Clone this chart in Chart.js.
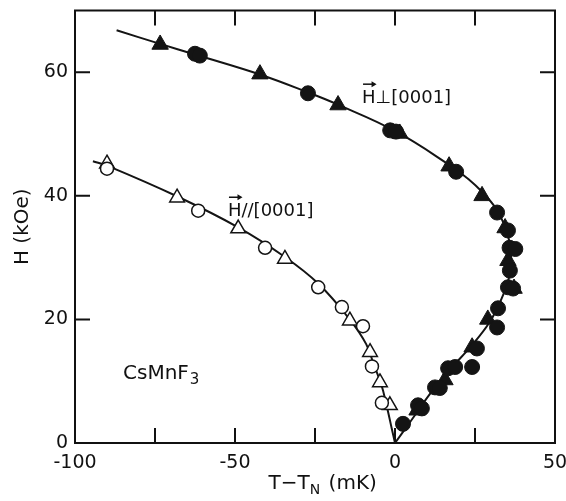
<!DOCTYPE html>
<html lang="en">
<head>
<meta charset="UTF-8">
<title>CsMnF3 phase boundary</title>
<style>
  body { margin: 0; background: #fff; }
  #chart { display: block; }
</style>
</head>
<body>
<canvas id="chart" width="566" height="501"></canvas>
<script src="https://cdn.jsdelivr.net/npm/chart.js"></script>
<script>
// H perpendicular to [0001] - filled circles
const perpCircleT = [-62.5, -61, -27.2, -1.5, 0.3, 19.1, 31.9, 35.3, 35.8, 37.6, 35.9, 35.3, 36.9, 32.2, 31.9, 25.6, 24.1, 16.6, 18.8, 12.5, 14, 7.2, 8.4, 2.5];
const perpCircleH = [63, 62.7, 56.6, 50.6, 50.4, 43.9, 37.3, 34.4, 31.6, 31.4, 27.9, 25.2, 25.0, 21.8, 18.7, 15.3, 12.3, 12.1, 12.3, 9.0, 8.9, 6.1, 5.6, 3.1];
// H perpendicular to [0001] - filled triangles
const perpTriT = [-73.4, -42.2, -17.8, 1.5, 16.9, 27.2, 34.4, 35.3, 37.2, 29, 24.1, 15.6, 6.9];
const perpTriH = [64.5, 59.7, 54.7, 50.1, 44.8, 40, 34.8, 29.5, 25, 20, 15.5, 10.2, 5.3];
// H parallel to [0001] - open circles
const parCircleT = [-90, -61.5, -40.6, -24, -16.6, -10, -7.2, -4.1];
const parCircleH = [44.4, 37.6, 31.6, 25.2, 22, 18.9, 12.4, 6.5];
// H parallel to [0001] - open triangles
const parTriT = [-90, -68.1, -49, -34.4, -14.1, -7.8, -4.7, -1.6];
const parTriH = [45.2, 39.7, 34.7, 29.8, 19.8, 14.7, 9.8, 6.1];
// drawn phase boundaries
const perpCurveT = [-87, -73.4, -62, -42, -27, -18, 0, 17, 23, 27.5, 31.5, 34, 35.8, 36.3, 35.5, 33, 29.5, 24, 17, 11, 5, 0];
const perpCurveH = [66.8, 64.6, 62.8, 59.6, 56.7, 54.8, 50.5, 45, 42.7, 40.5, 38, 35.5, 32.5, 29.5, 26.5, 23, 19.5, 15.8, 11.8, 8, 3.6, 0];
const parCurveT = [-94.4, -90, -68, -49, -34.4, -24, -14, -9, -6.5, -4.3, -2.5, -1, 0];
const parCurveH = [45.6, 44.9, 39.9, 34.9, 30.1, 25.8, 19.9, 16, 12.5, 9.5, 5.8, 2.3, 0];
// axis ticks
const xTickMarks = [-75, -50, -25, 0, 25];
const yTickMarks = [20, 40, 60];

const pts = (xs, ys) => xs.map((v, i) => ({ x: v, y: ys[i] }));
const FONT = 'DejaVu Sans';

const frameAndText = {
  id: 'frameAndText',
  afterDraw(chart) {
    const { ctx, chartArea: a, scales: { x, y } } = chart;
    ctx.save();
    ctx.strokeStyle = '#111';
    ctx.lineWidth = 2;
    ctx.strokeRect(a.left, a.top, a.right - a.left, a.bottom - a.top);
    ctx.beginPath();
    xTickMarks.forEach(v => {
      const px = x.getPixelForValue(v);
      ctx.moveTo(px, a.bottom); ctx.lineTo(px, a.bottom - 15);
      ctx.moveTo(px, a.top); ctx.lineTo(px, a.top + 15);
    });
    yTickMarks.forEach(v => {
      const py = y.getPixelForValue(v);
      ctx.moveTo(a.left, py); ctx.lineTo(a.left + 15, py);
      ctx.moveTo(a.right, py); ctx.lineTo(a.right - 15, py);
    });
    ctx.stroke();

    ctx.fillStyle = '#111';
    ctx.textBaseline = 'alphabetic';
    ctx.textAlign = 'left';

    // label with vector arrow over the H
    function vecLabel(txt, tx, hy) {
      ctx.font = '18px "' + FONT + '"';
      const px = x.getPixelForValue(tx), py = y.getPixelForValue(hy);
      ctx.fillText(txt, px, py);
      const w = ctx.measureText('H').width;
      const ay = py - 19;
      ctx.lineWidth = 1.5;
      ctx.beginPath();
      ctx.moveTo(px + 1, ay); ctx.lineTo(px + w - 1, ay);
      ctx.stroke();
      ctx.beginPath();
      ctx.moveTo(px + w + 1, ay); ctx.lineTo(px + w - 4, ay - 3); ctx.lineTo(px + w - 4, ay + 3);
      ctx.closePath(); ctx.fill();
    }
    vecLabel('H\u22a5[0001]', -10.3, 55);
    vecLabel('H//[0001]', -52.2, 36.7);

    // compound label
    ctx.font = '20px "' + FONT + '"';
    let cx = x.getPixelForValue(-85), cy = y.getPixelForValue(10.3);
    ctx.fillText('CsMnF', cx, cy);
    cx += ctx.measureText('CsMnF').width;
    ctx.font = '15px "' + FONT + '"';
    ctx.fillText('3', cx + 1, cy + 5);

    // x-axis title with subscript
    ctx.font = '20px "' + FONT + '"';
    let tx = x.getPixelForValue(-39.5), ty = a.bottom + 46;
    ctx.fillText('T\u2212T', tx, ty);
    tx += ctx.measureText('T\u2212T').width;
    ctx.font = '14px "' + FONT + '"';
    ctx.fillText('N', tx, ty + 5);
    tx += ctx.measureText('N').width;
    ctx.font = '20px "' + FONT + '"';
    ctx.fillText(' (mK)', tx + 2, ty);
    ctx.restore();
  }
};

new Chart(document.getElementById('chart'), {
  type: 'scatter',
  data: {
    datasets: [
      {
        data: pts(perpCircleT, perpCircleH),
        pointStyle: 'circle', pointRadius: 7.5,
        pointBackgroundColor: '#141414', pointBorderColor: '#141414', pointBorderWidth: 1
      },
      {
        data: pts(perpTriT, perpTriH),
        pointStyle: 'triangle', pointRadius: 9.5,
        pointBackgroundColor: '#141414', pointBorderColor: '#141414', pointBorderWidth: 1
      },
      {
        data: pts(parCircleT, parCircleH),
        pointStyle: 'circle', pointRadius: 6.5,
        pointBackgroundColor: '#fff', pointBorderColor: '#141414', pointBorderWidth: 1.5
      },
      {
        data: pts(parTriT, parTriH),
        pointStyle: 'triangle', pointRadius: 8.5,
        pointBackgroundColor: '#fff', pointBorderColor: '#141414', pointBorderWidth: 1.5
      },
      {
        data: pts(perpCurveT, perpCurveH),
        showLine: true, pointRadius: 0, borderColor: '#141414', borderWidth: 2, tension: 0.4
      },
      {
        data: pts(parCurveT, parCurveH),
        showLine: true, pointRadius: 0, borderColor: '#141414', borderWidth: 2, tension: 0.4
      }
    ]
  },
  options: {
    responsive: false,
    animation: false,
    devicePixelRatio: 1,
    layout: { padding: { top: 10, right: 11, left: 0, bottom: 0 } },
    plugins: { legend: { display: false }, tooltip: { enabled: false } },
    scales: {
      x: {
        type: 'linear', min: -100, max: 50,
        grid: { display: false, drawTicks: false },
        border: { display: false },
        ticks: { stepSize: 50, padding: 9, color: '#111', font: { family: FONT, size: 19 } },
        afterFit: s => { s.height = 58; s.paddingLeft = 0; s.paddingRight = 0; }
      },
      y: {
        type: 'linear', min: 0, max: 70,
        grid: { display: false, drawTicks: false },
        border: { display: false },
        ticks: {
          stepSize: 20, padding: 7, color: '#111', font: { family: FONT, size: 19 },
          callback: v => (v % 20 === 0 ? v : '')
        },
        title: { display: true, text: 'H (kOe)', color: '#111', font: { family: FONT, size: 20 }, padding: { top: 11, bottom: 0 } },
        afterFit: s => { s.width = 75; s.paddingTop = 0; s.paddingBottom = 0; }
      }
    }
  },
  plugins: [frameAndText]
});
</script>
</body>
</html>
